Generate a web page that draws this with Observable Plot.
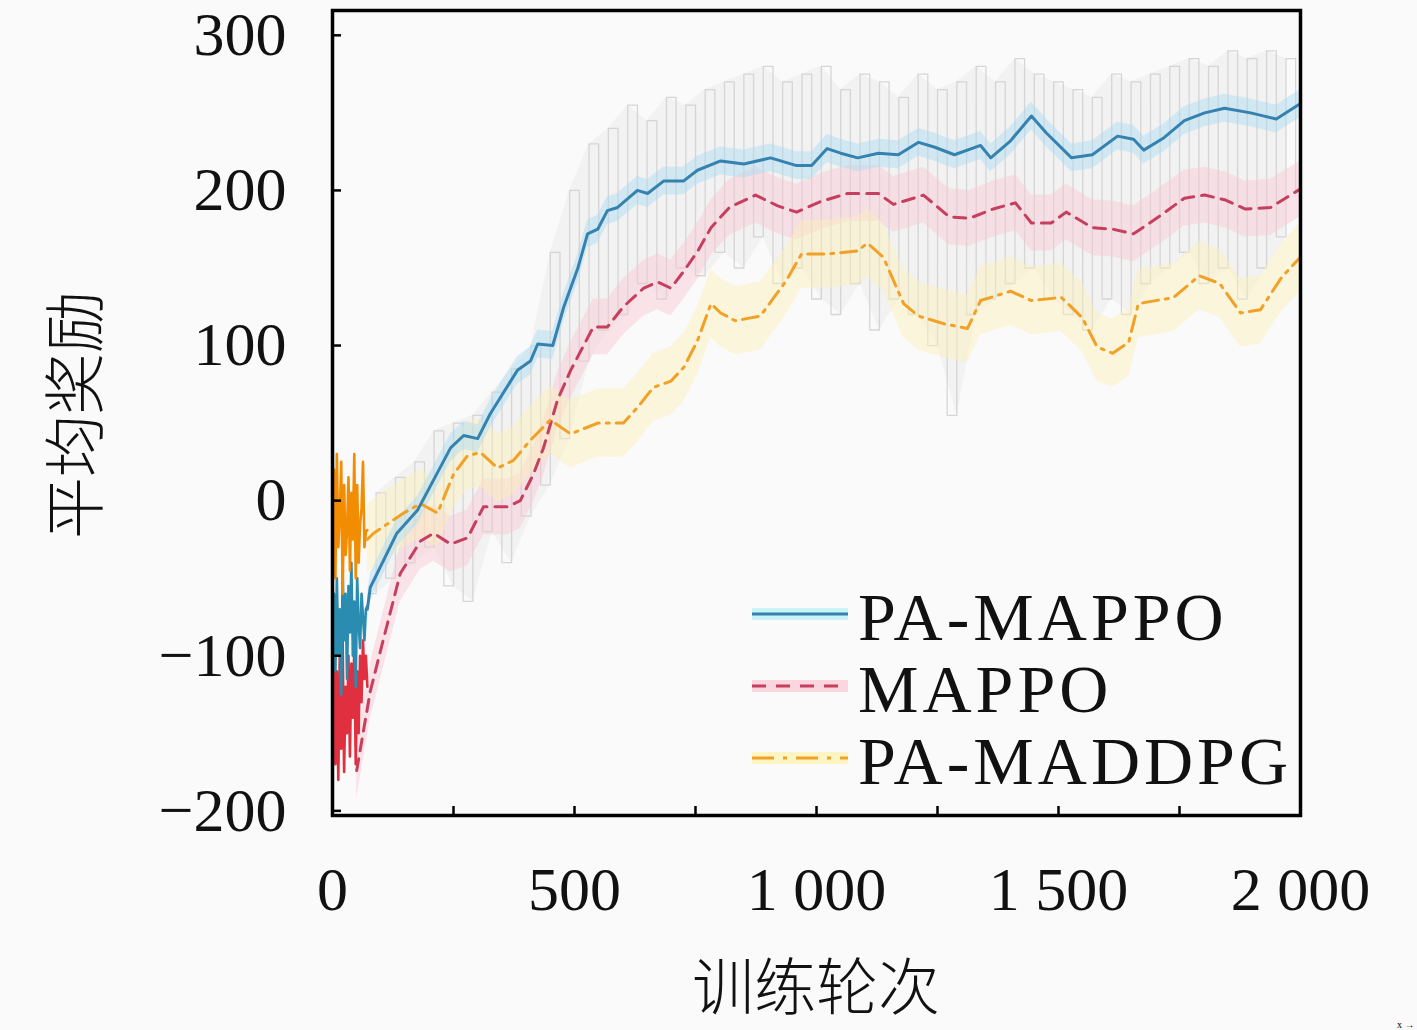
<!DOCTYPE html>
<html><head><meta charset="utf-8">
<script src="https://cdn.jsdelivr.net/npm/d3@7"></script>
<script src="https://cdn.jsdelivr.net/npm/@observablehq/plot@0.6"></script>
<style>
html,body{margin:0;padding:0;background:#fafafa;}
#chart{position:relative;width:1417px;height:1030px;}
</style></head>
<body><div id="chart"></div>
<script>
// ---- data ----
const seriesNames = ["PA-MAPPO", "MAPPO", "PA-MADDPG"];
const xTickValues = [0, 500, 1000, 1500, 2000];
const xTickLabels = ["0", "500", "1 000", "1 500", "2 000"];
const xMinorTicks = [0, 250, 500, 750, 1000, 1250, 1500, 1750, 2000];
const yTickValues = [-200, -100, 0, 100, 200, 300];

const paMappoX = [72,78,133,176,244,271,300,326,382,409,424,455,478,507,527,548,568,589,630,651,684,725,754,802,850,905,959,990,1022,1050,1085,1128,1169,1211,1243,1285,1339,1360,1401,1444,1475,1527,1570,1622,1655,1676,1718,1760,1802,1843,1897,1950,2000];
const paMappoY = [-70,-56,-21,-6,34,42,40,56,84,90,101,100,125,150,172,175,187,189,200,198,206,206,213,219,217,221,216,216,227,224,221,224,223,231,228,223,229,221,232,248,237,221,223,235,233,226,234,245,250,253,250,246,256];

const mappoX = [50,78,99,140,182,209,244,279,312,362,388,415,436,465,492,539,568,601,643,672,699,726,755,782,820,874,920,959,1010,1064,1128,1159,1221,1274,1316,1365,1411,1444,1485,1516,1570,1612,1655,1707,1760,1802,1843,1886,1938,2000];
const mappoY = [-174,-123,-97,-47,-26,-21,-28,-24,-4,-4,0,17,34,65,84,112,112,125,137,141,137,148,161,176,189,197,190,186,193,198,198,191,197,183,182,188,192,179,179,186,176,175,172,183,195,197,194,188,189,201];

const maddpgX = [72,85,147,182,217,250,279,306,341,374,409,450,492,548,601,630,663,699,726,754,782,802,832,884,938,969,1022,1085,1105,1138,1180,1211,1264,1312,1339,1401,1444,1506,1549,1580,1612,1645,1665,1738,1791,1833,1876,1917,1961,2000];
const maddpgY = [-25,-21,-8,-2,-8,17,29,31,21,26,39,52,43,50,50,60,73,77,86,103,127,121,116,119,142,159,159,161,166,157,127,119,114,111,129,135,129,131,118,99,95,102,127,131,145,140,121,123,144,157];

// early raw (noisy) episodes, x = 0..72 step 3
const earlyX = [0,3,6,9,12,15,18,21,24,27,30,33,36,39,42,45,48,51,54,57,60,63,66,69,72];
const earlyPaMappo = [-120,-60,-110,-50,-100,-70,-125,-45,-90,-60,-115,-55,-85,-40,-100,-65,-120,-50,-80,-95,-60,-75,-90,-70,-68];
const earlyMappo = [-150,-95,-170,-110,-180,-100,-160,-90,-175,-120,-150,-100,-165,-105,-140,-95,-170,-110,-150,-100,-130,-90,-115,-100,-120];
const earlyMaddpg = [-40,20,-50,30,-30,-10,25,-60,10,-35,-20,15,-45,5,-25,30,-50,10,-40,-15,-5,25,-30,-20,-19];

// raw rewards (grey), x = 80..2000 step 20
const rawStart = 80, rawStep = 20;
const rawY = [-60,5,-50,15,-40,25,-30,45,-55,50,-65,55,-20,70,-40,85,-10,100,10,160,40,200,90,230,110,240,120,255,140,245,130,260,150,255,145,265,160,270,150,275,170,280,140,270,150,275,130,280,120,265,140,275,110,270,130,260,120,275,100,265,55,270,120,280,130,270,140,285,150,275,130,270,120,265,110,260,130,275,120,270,140,275,150,280,160,285,140,280,150,290,130,285,150,290,170,285,200];

// ---- build tables ----
const toRows = (xs, ys, name) => xs.map((x, i) => ({x, y: ys[i], name}));
const paMappo = toRows(paMappoX, paMappoY, seriesNames[0]);
const mappo = toRows(mappoX, mappoY, seriesNames[1]);
const maddpg = toRows(maddpgX, maddpgY, seriesNames[2]);
const raw = rawY.map((y, i) => ({x: rawStart + i * rawStep, y}));
const rawEnvelope = [];
for (let i = 0; i + 1 < raw.length; i += 2) {
  rawEnvelope.push({x: raw[i].x + rawStep / 2, lo: Math.min(raw[i].y, raw[i + 1].y), hi: Math.max(raw[i].y, raw[i + 1].y)});
}
const early = (ys) => earlyX.map((x, i) => ({x, y: ys[i]}));

const colors = {blue: "#3582b0", red: "#c63f5f", orange: "#f0a126"};
const serif = "'Liberation Serif','DejaVu Serif',serif";
const cjk = "'Noto Sans CJK SC',sans-serif";

const band = (data, w, fill) => Plot.areaY(data, {x: "x", y1: d => d.y - w, y2: d => d.y + w, fill, fillOpacity: 0.45, curve: "linear"});

const plot = Plot.plot({
  width: 1417, height: 1030,
  marginLeft: 332, marginRight: 117, marginTop: 10, marginBottom: 215,
  style: {background: "#fafafa", fontFamily: serif},
  x: {domain: [0, 2000]},
  y: {domain: [-203, 316]},
  marks: [
    Plot.areaY(rawEnvelope, {x: "x", y1: "lo", y2: "hi", fill: "#e2e2e2", fillOpacity: 0.3, curve: "linear"}),
    Plot.line(raw, {x: "x", y: "y", stroke: "#cdcdcd", strokeWidth: 1.3, strokeOpacity: 0.8, curve: "step"}),
    band(mappo, 18, "#f9c6d2"),
    band(maddpg, 22, "#fdf0b8"),
    band(paMappo, 9, "#a9dcf3"),
    Plot.line(early(earlyMappo), {x: "x", y: "y", stroke: "#e0303f", strokeWidth: 2.6}),
    Plot.line(early(earlyPaMappo), {x: "x", y: "y", stroke: "#2a8cb0", strokeWidth: 2.6}),
    Plot.line(early(earlyMaddpg), {x: "x", y: "y", stroke: "#f28c00", strokeWidth: 2.6}),
    Plot.line(mappo, {x: "x", y: "y", stroke: colors.red, strokeWidth: 3, strokeDasharray: "12,8"}),
    Plot.line(maddpg, {x: "x", y: "y", stroke: colors.orange, strokeWidth: 3, strokeDasharray: "16,7,3,7"}),
    Plot.line(paMappo, {x: "x", y: "y", stroke: colors.blue, strokeWidth: 3}),
    Plot.axisX(xMinorTicks, {tickSize: -9, tickFormat: () => "", strokeWidth: 2.5}),
    Plot.axisX(xTickValues, {tickSize: 0, tickPadding: 50, tickFormat: (d) => xTickLabels[xTickValues.indexOf(d)], fontSize: 62, fill: "#111", label: null}),
    Plot.axisY(yTickValues, {tickSize: -9, tickFormat: () => "", strokeWidth: 2.5, label: null}),
    Plot.axisY(yTickValues, {tickSize: 0, tickPadding: 46, tickFormat: d => d < 0 ? "\u2212" + Math.abs(d) : String(d), fontSize: 62, fill: "#111", label: null}),
    Plot.frame({stroke: "#000", strokeWidth: 3.5})
  ]
});
document.getElementById("chart").appendChild(plot);

// ---- legend and axis titles (overlay) ----
const svg = d3.select(plot);
const leg = svg.append("g").attr("text-anchor", "start");
const legendItems = [
  {name: seriesNames[0], color: colors.blue, dash: null, bandc: "#c9f3f5"},
  {name: seriesNames[1], color: colors.red, dash: "14,10", bandc: "#fbd6df"},
  {name: seriesNames[2], color: colors.orange, dash: "22,9,4,9", bandc: "#fdf5c4"}
];
legendItems.forEach((d, i) => {
  const yy = 614 + i * 72;
  leg.append("rect").attr("x", 752).attr("y", yy - 6).attr("width", 96).attr("height", 12).attr("fill", d.bandc);
  leg.append("line").attr("x1", 752).attr("x2", 848).attr("y1", yy).attr("y2", yy)
    .attr("stroke", d.color).attr("stroke-width", 3).attr("stroke-dasharray", d.dash);
  leg.append("text").attr("x", 858).attr("y", yy + 26).attr("font-family", serif).attr("font-size", 68)
    .attr("letter-spacing", 4).attr("fill", "#111").attr("text-anchor", "start").text(d.name);
});
svg.append("text").attr("x", 816).attr("y", 1010).attr("text-anchor", "middle")
  .attr("font-family", cjk).attr("font-size", 62).attr("font-weight", 300).attr("fill", "#111").text("训练轮次");
svg.append("text").attr("transform", "translate(98,415) rotate(-90)").attr("text-anchor", "middle")
  .attr("font-family", cjk).attr("font-size", 62).attr("font-weight", 300).attr("fill", "#111").text("平均奖励");
</script>
</body></html>
